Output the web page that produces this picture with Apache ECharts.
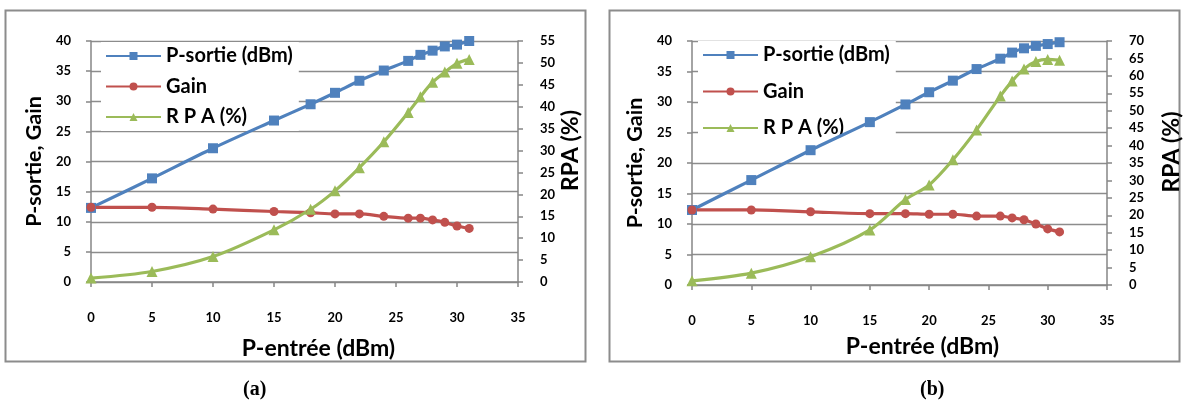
<!DOCTYPE html>
<html><head><meta charset="utf-8">
<script src="https://cdn.jsdelivr.net/npm/echarts@6/dist/echarts.min.js"></script>
<style>html,body{margin:0;padding:0;background:#fff}#c{width:1184px;height:401px}</style>
</head><body><div id="c"></div>
<script>
const xIn = [0,5,10,15,18,20,22,24,26,27,28,29,30,31];
const xTicks = [0,5,10,15,20,25,30,35];
const a_pout = [12.3,17.2,22.2,26.8,29.5,31.4,33.4,35.1,36.7,37.7,38.4,39.1,39.4,40.0];
const a_gain = [12.4,12.4,12.1,11.7,11.5,11.3,11.3,10.9,10.6,10.6,10.3,9.9,9.3,8.9];
const a_rpa  = [0.9,2.4,5.8,11.9,16.6,20.8,26.1,32.0,38.7,42.3,45.6,47.9,49.9,50.8];
const b_pout = [12.3,17.2,22.1,26.7,29.6,31.6,33.5,35.4,37.1,38.1,38.8,39.2,39.5,39.8];
const b_gain = [12.3,12.3,12.0,11.7,11.7,11.6,11.6,11.3,11.3,11.0,10.7,10.0,9.2,8.7];
const b_rpa  = [1.2,3.4,8.1,15.8,24.5,28.7,35.9,44.5,54.2,58.5,62.0,64.1,64.7,64.5];
const names = ['P-sortie (dBm)','Gain','R P A (%)'];
const panelLabels = ['(a)','(b)'];
const xTitle = 'P-entrée (dBm)';
const yTitle = 'P-sortie, Gain';
const y2Title = 'RPA (%)';

const FONT = 'Lato';
const AX = '#868686';
const colors = ['#4f81bd','#c0504d','#9bbb59'];
const pair = arr => xIn.map((x,i)=>[x,arr[i]]);

function xAxis(gi, gap, padL){
  return {type:'value', gridIndex:gi, min:0, max:35, interval:5,
    axisLine:{show:true,lineStyle:{color:AX,width:1.5}},
    axisTick:{show:true,inside:false,length:5,lineStyle:{color:AX,width:1.5}},
    splitLine:{show:false},
    axisLabel:{margin:29,color:'#000',fontFamily:FONT,fontWeight:'bold',fontSize:13},
    name:xTitle,nameLocation:'middle',nameGap:gap,
    nameTextStyle:{color:'#000',fontFamily:FONT,fontWeight:'bold',fontSize:23,padding:[0,0,0,padL]}};
}
function yLeft(gi){
  return {type:'value', gridIndex:gi, position:'left', min:0, max:40, interval:5,
    axisLine:{show:true,lineStyle:{color:AX,width:1.5}},
    axisTick:{show:true,inside:false,length:5,lineStyle:{color:AX,width:1.5}},
    splitLine:{show:true,lineStyle:{color:'#8c8c8c',width:1.3}},
    axisLabel:{margin:20,color:'#000',fontFamily:FONT,fontWeight:'bold',fontSize:13},
    name:yTitle,nameLocation:'middle',nameGap:46,nameRotate:90,
    nameTextStyle:{color:'#000',fontFamily:FONT,fontWeight:'bold',fontSize:21.5}};
}
function yRight(gi,max,gap){
  return {type:'value', gridIndex:gi, position:'right', min:0, max:max, interval:5,
    axisLine:{show:true,lineStyle:{color:AX,width:1.5}},
    axisTick:{show:true,inside:false,length:5,lineStyle:{color:AX,width:1.5}},
    splitLine:{show:false},
    axisLabel:{margin:22,color:'#000',fontFamily:FONT,fontWeight:'bold',fontSize:13},
    name:y2Title,nameLocation:'middle',nameGap:gap,nameRotate:90,
    nameTextStyle:{color:'#000',fontFamily:FONT,fontWeight:'bold',fontSize:23,padding:[0,0,0,22]}};
}
function ser(name, gi, xi, yi, arr, k){
  const sym = ['rect','circle','triangle'][k];
  return {name:name, type:'line', xAxisIndex:xi, yAxisIndex:yi, data:pair(arr),
    smooth:0.3, symbol:sym, symbolSize:[10,9,11][k], showSymbol:true,
    lineStyle:{color:colors[k],width:3.2}, itemStyle:{color:colors[k]}, z:3, animation:false};
}
function legend(left, top, gap){
  return {orient:'vertical', left:left, top:top, itemWidth:55, itemHeight:10, itemGap:gap,
    backgroundColor:'#fff', padding:[3,6,3,4], z:1, data:names.map(n=>({name:n})),
    textStyle:{color:'#000',fontFamily:FONT,fontWeight:'bold',fontSize:20,lineHeight:22}};
}

const option = {
  animation:false,
  grid:[{left:91,top:41,width:427,height:241},{left:692,top:41,width:430,height:244}],
  xAxis:[xAxis(0,55,28),xAxis(1,50,46)],
  yAxis:[yLeft(0),yRight(0,55,41),yLeft(1),yRight(1,70,53)],
  legend:[legend(101,42,8.5), legend(698,41,14.5)],
  series:[
    ser(names[0],0,0,0,a_pout,0), ser(names[1],0,0,0,a_gain,1), ser(names[2],0,0,1,a_rpa,2),
    ser(names[0],1,1,2,b_pout,0), ser(names[1],1,1,2,b_gain,1), ser(names[2],1,1,3,b_rpa,2)
  ],
  graphic:[
    {type:'rect',shape:{x:5.5,y:10.5,width:580,height:351},style:{fill:'none',stroke:'#8c8c8c',lineWidth:2},z:-1,silent:true},
    {type:'rect',shape:{x:609.5,y:10.5,width:570,height:351},style:{fill:'none',stroke:'#8c8c8c',lineWidth:2},z:-1,silent:true},
    {type:'text',left:243,top:380,style:{text:panelLabels[0],font:'bold 20px "Liberation Serif"',fill:'#000'}},
    {type:'text',left:920,top:380,style:{text:panelLabels[1],font:'bold 20px "Liberation Serif"',fill:'#000'}}
  ]
};
const chart = echarts.init(document.getElementById('c'),null,{renderer:'canvas'});
chart.setOption(option);
</script></body></html>
